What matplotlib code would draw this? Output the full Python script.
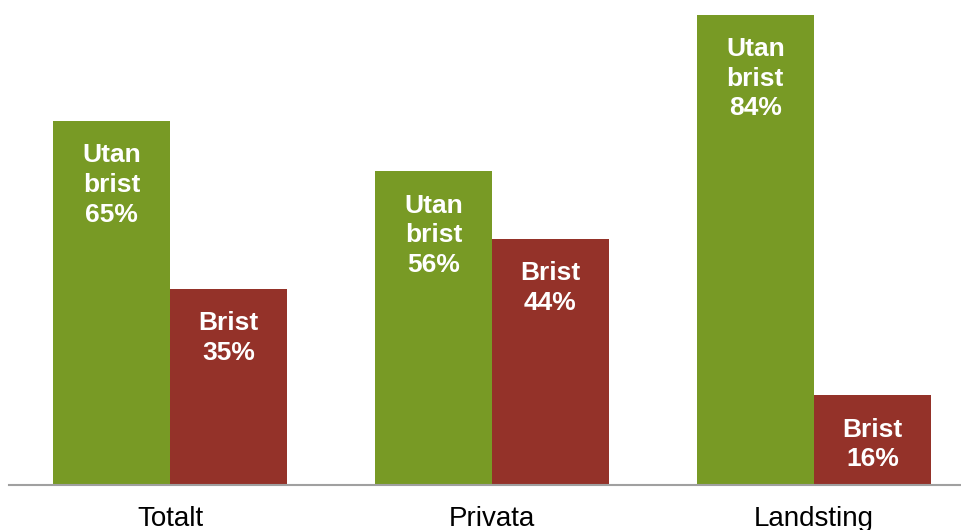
import numpy as np
import matplotlib
matplotlib.use("Agg")
from matplotlib import pyplot as plt

plt.rcParams['font.family'] = ['Liberation Sans', 'DejaVu Sans']

groups = ["Totalt", "Privata", "Landsting"]
utan_brist = [65, 56, 84]
brist = [35, 44, 16]
green = "#789A25"
red = "#943229"

fig = plt.figure(dpi=100, figsize=(9.62, 5.30))
ax = fig.add_axes([9 / 962, 45 / 530, 953 / 962, 485 / 530])

x = np.arange(len(groups))
w = 117 / 322
b1 = ax.bar(x - w / 2, utan_brist, width=w, color=green)
b2 = ax.bar(x + w / 2, brist, width=w, color=red)

for bars, vals, name in [(b1, utan_brist, "Utan\nbrist"), (b2, brist, "Brist")]:
    for r, v in zip(bars, vals):
        ax.annotate(f"{name}\n{v}%", (r.get_x() + r.get_width() / 2, v),
                    xytext=(0, -16), textcoords="offset points",
                    ha="center", va="top", color="white", fontsize=19,
                    fontweight="bold", linespacing=1.3)

ax.set_xlim(-0.5, 2.46)
ax.set_ylim(0, 485 / 5.6)
ax.set_xticks(x)
ax.set_xticklabels(groups, fontsize=20)
ax.tick_params(axis="x", length=0, pad=15)
ax.set_yticks([])
for s in ["top", "right", "left"]:
    ax.spines[s].set_visible(False)
ax.spines["bottom"].set_color("#A0A0A0")
ax.spines["bottom"].set_linewidth(1.5)

fig.savefig("out.png", dpi=100)
